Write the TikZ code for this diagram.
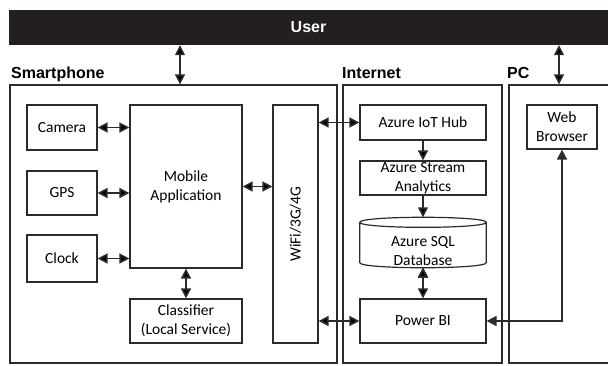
\documentclass[tikz,border=0pt]{standalone}
\usepackage{fontspec}
\setmainfont{Carlito}
\newfontfamily\headfont{Liberation Sans}
\usetikzlibrary{arrows.meta}

\definecolor{barblack}{HTML}{231F20}
\definecolor{linegray}{HTML}{2B2B2B}

\tikzset{
	block/.style={draw=linegray, line width=1.2pt, inner sep=0pt, align=center,
		font=\fontsize{15.5}{19}\selectfont},
	area/.style={draw=linegray, line width=1.3pt, inner sep=0pt,
		minimum height=278},
	head/.style={font=\headfont\bfseries\fontsize{16}{19}\selectfont,
		inner sep=0pt, anchor=base west},
}

\begin{document}
\begin{tikzpicture}[x=1pt,y=-1pt]
		\useasboundingbox (0,0) rectangle (608,365);
		
		\node[fill=barblack, text=white, inner sep=0pt, minimum width=599, minimum height=35,
			font=\headfont\bfseries\fontsize{16}{19}\selectfont] (user) at (308.5,27.5) {User};
		
		% groups
		\node[area, minimum width=327] (phone) at (173.5,224) {};
		\node[area, minimum width=159] (net) at (422.5,224) {};
		\node[area, minimum width=110] (pc) at (564,224) {};
		\node[head] (phonelbl) at (11,78) {Smartphone};
		\node[head] (netlbl) at (342,78) {Internet};
		\node[head] (pclbl) at (507,78.5) {PC};
		
		% smartphone
		\node[block, minimum width=70, minimum height=45] (camera) at (62,127.5) {Camera};
		\node[block, minimum width=70, minimum height=44] (gps) at (62,193) {GPS};
		\node[block, minimum width=70, minimum height=47] (clock) at (62,258.5) {Clock};
		\node[block, minimum width=112, minimum height=163] (mobile) at (186,186.5) {Mobile\\Application};
		\node[block, minimum width=112, minimum height=44] (classifier) at (186,321) {Classifier\\(Local Service)};
		\node[block, minimum width=45, minimum height=238] (wifi) at (295.5,224) {};
		\node[font=\fontsize{15.5}{19}\selectfont, rotate=90, inner sep=0pt] (wifilbl) at (wifi.center) {WiFi/3G/4G};
		
		% internet
		\node[block, minimum width=126, minimum height=35] (iothub) at (423,122.5) {Azure IoT Hub};
		\node[block, minimum width=126, minimum height=34] (stream) at (423,178) {Azure Stream\\Analytics};
		\node[minimum width=126, minimum height=40, inner sep=0pt] (db) at (423,242.5) {};
		\node[block, draw=none] (dblbl) at (423,251) {Azure SQL\\Database};
		\draw[linegray, line width=1.2pt]
			(db.north west) -- (db.south west)
			.. controls +(0,6.7) and +(0,6.7) .. (db.south east) -- (db.north east)
			.. controls +(0,-6.7) and +(0,-6.7) .. (db.north west)
			.. controls +(0,6.7) and +(0,6.7) .. (db.north east);
		\node[block, minimum width=126, minimum height=44] (powerbi) at (423,321) {Power BI};
		
		% pc
		\node[block, minimum width=70, minimum height=44] (web) at (562,127) {Web\\Browser};
		
		\coordinate (up) at (180,0);
		\coordinate (pcup) at (559,0);
		
		%
		\path[<->, draw=linegray, line width=1.6pt, >={Triangle[length=10pt,width=10pt]}]
			(user.south -| up) edge (phone.north -| up)
			(user.south -| pcup) edge (pc.north -| pcup)
			(camera.east) edge (camera.east -| mobile.west)
			(gps.east) edge (gps.east -| mobile.west)
			(clock.east) edge (clock.east -| mobile.west)
			(mobile.south) edge (classifier.north)
			(mobile.east) edge (mobile.east -| wifi.west)
			(iothub.west -| wifi.east) edge (iothub.west)
			(powerbi.west -| wifi.east) edge (powerbi.west)
			(iothub.south) edge[->] (stream.north)
			(stream.south) edge[->] ([yshift=5pt]db.north)
			([yshift=-5pt]db.south) edge (powerbi.north);
		\draw[<->, linegray, line width=1.6pt, >={Triangle[length=10pt,width=10pt]}]
			(powerbi.east) -| (web.south);
		
	\end{tikzpicture}
\end{document}
